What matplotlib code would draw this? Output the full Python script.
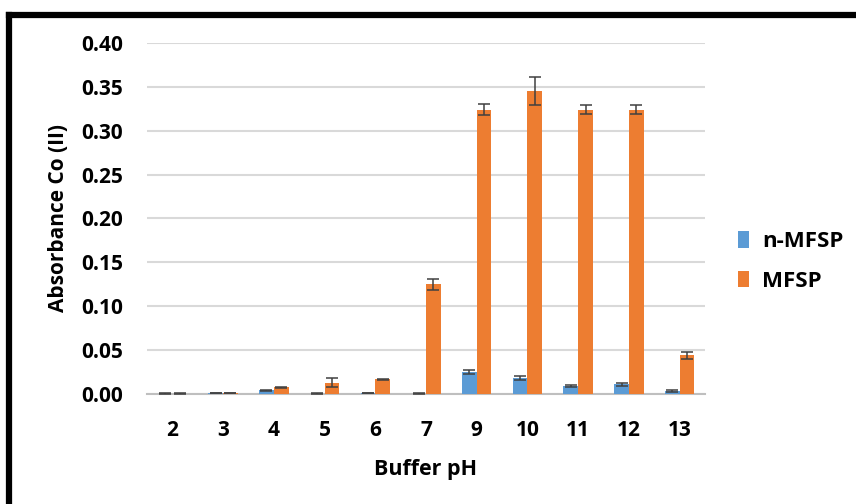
import matplotlib.pyplot as plt
import numpy as np
from matplotlib.lines import Line2D

ph = ['2', '3', '4', '5', '6', '7', '9', '10', '11', '12', '13']
n_mfsp = [0.0005, 0.001, 0.004, 0.0005, 0.001, 0.0005, 0.025, 0.018, 0.009, 0.011, 0.0035]
n_mfsp_err = [0.0003, 0.0003, 0.0008, 0.0003, 0.0003, 0.0003, 0.002, 0.002, 0.001, 0.002, 0.001]
mfsp = [0.0005, 0.001, 0.0075, 0.013, 0.0165, 0.125, 0.324, 0.345, 0.324, 0.324, 0.044]
mfsp_err = [0.0003, 0.0003, 0.0008, 0.005, 0.0005, 0.006, 0.006, 0.016, 0.005, 0.005, 0.004]

FONT = 'Open Sans'

fig = plt.figure(figsize=(8.56, 5.04), dpi=100)
ax = fig.add_axes([0.1717, 0.2183, 0.6519, 0.6964])

x = np.arange(len(ph))
w = 0.29
err_kw = dict(ecolor='#404040', elinewidth=1.1, capsize=4.5, capthick=1.1)
ax.bar(x - w / 2, n_mfsp, w, yerr=n_mfsp_err, color='#5B9BD5', label='n-MFSP', error_kw=err_kw, zorder=3)
ax.bar(x + w / 2, mfsp, w, yerr=mfsp_err, color='#ED7D31', label='MFSP', error_kw=err_kw, zorder=3)

ax.set_xlim(-0.5, len(ph) - 0.5)
ax.set_ylim(0, 0.40)
ax.set_yticks(np.arange(0, 0.401, 0.05))
ax.set_yticklabels(['%.2f' % v for v in np.arange(0, 0.401, 0.05)])
ax.set_xticks(x)
ax.set_xticklabels(ph)
ax.yaxis.grid(True, color='#d9d9d9', linewidth=1.5, zorder=0)
ax.set_axisbelow(True)
for s in ['top', 'right', 'left']:
    ax.spines[s].set_visible(False)
ax.spines['bottom'].set_color('#bfbfbf')
ax.spines['bottom'].set_linewidth(1.5)
ax.tick_params(length=0, labelsize=15)
ax.tick_params(axis='x', pad=19)
ax.tick_params(axis='y', pad=17)
for lab in ax.get_xticklabels() + ax.get_yticklabels():
    lab.set_family(FONT)
    lab.set_fontweight('bold')

ax.set_xlabel('Buffer pH', family=FONT, fontweight='bold', fontsize=15.5, labelpad=13)
ax.set_ylabel('Absorbance Co (II)', family=FONT, fontweight='bold', fontsize=15, labelpad=9)

leg = ax.legend(loc='center left', bbox_to_anchor=(1.059, 0.377), frameon=False,
                borderaxespad=0, borderpad=0,
                prop={'family': FONT, 'weight': 'bold', 'size': 16},
                handlelength=0.5, handleheight=0.75, handletextpad=0.6, labelspacing=0.85)

# black frame (top and left only)
fig.add_artist(Line2D([0.0105, 0.0105], [0, 0.971], transform=fig.transFigure, color='black', linewidth=4.5))
fig.add_artist(Line2D([0.0105, 1.0], [0.971, 0.971], transform=fig.transFigure, color='black', linewidth=4.5))

fig.savefig('out.png', dpi=100)
